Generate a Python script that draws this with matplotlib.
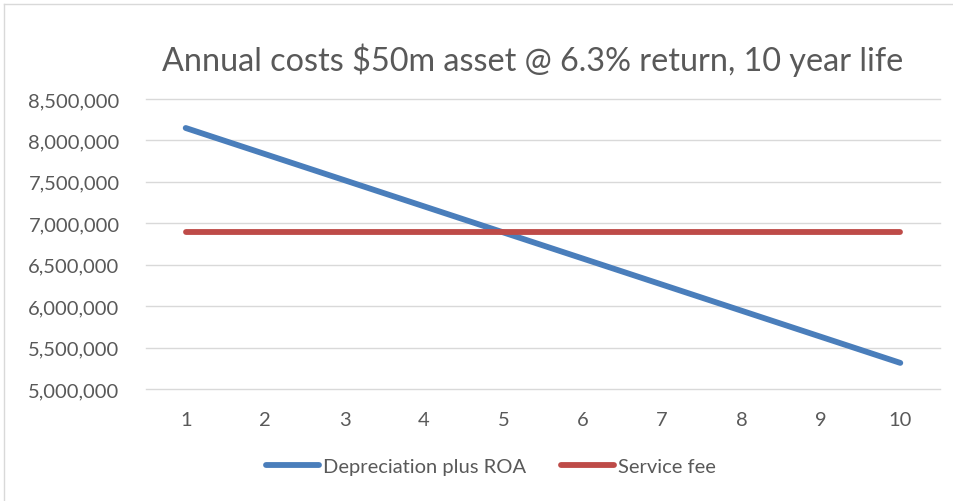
import matplotlib
matplotlib.use("Agg")
import matplotlib.pyplot as plt
from matplotlib.lines import Line2D
from matplotlib.ticker import FuncFormatter

plt.rcParams['font.family'] = ['Lato', 'DejaVu Sans']

years = [1, 2, 3, 4, 5, 6, 7, 8, 9, 10]
depreciation_plus_roa = [8150000, 7835000, 7520000, 7205000, 6890000,
                         6575000, 6260000, 5945000, 5630000, 5315000]
service_fee = [6890000] * 10
series_names = ["Depreciation plus ROA", "Service fee"]
title = "Annual costs $50m asset @ 6.3% return, 10 year life"
y_ticks = [5000000, 5500000, 6000000, 6500000, 7000000, 7500000, 8000000, 8500000]

W, H = 954, 502
fig = plt.figure(figsize=(W / 100, H / 100), dpi=100)
ax = fig.add_axes([146 / W, 1 - 390 / H, (940 - 146) / W, (390 - 100) / H])

blue = "#4A7EBB"
red = "#BE4B48"
lw = 4.2
ax.plot(years, depreciation_plus_roa, color=blue, lw=lw, solid_capstyle='round', zorder=3)
ax.plot(years, service_fee, color=red, lw=lw, solid_capstyle='round', zorder=3)

ax.set_xlim(0.5, 10.5)
ax.set_ylim(5000000, 8500000)
ax.set_yticks(y_ticks)
ax.set_xticks(years)
ax.yaxis.set_major_formatter(FuncFormatter(lambda v, p: f"{int(v):,}"))
ax.grid(axis='y', color='#D9D9D9', lw=1)
for gl in ax.get_ygridlines():
    gl.set_clip_on(False)
ax.set_axisbelow(True)
for s in ax.spines.values():
    s.set_visible(False)
ax.tick_params(axis='both', length=0, labelsize=14.5, colors='#595959')
ax.tick_params(axis='x', pad=16)
ax.tick_params(axis='y', pad=19)

fig.text(533 / W, 1 - 60 / H, title, ha='center', va='center', fontsize=23.3, color='#595959')

handles = [Line2D([0], [0], color=blue, lw=lw, solid_capstyle='round'),
           Line2D([0], [0], color=red, lw=lw, solid_capstyle='round')]
fig.legend(handles, series_names, loc='center', bbox_to_anchor=(491 / W, 1 - 467 / H),
           ncol=2, frameon=False, fontsize=14.5, handlelength=2.6, handletextpad=0.2,
           columnspacing=1.75, labelcolor='#595959')

# chart border (top and left visible)
fig.add_artist(Line2D([4 / W, 1], [1 - 5 / H, 1 - 5 / H], transform=fig.transFigure, color='#D9D9D9', lw=1))
fig.add_artist(Line2D([4 / W, 4 / W], [1 - 5 / H, 0], transform=fig.transFigure, color='#D9D9D9', lw=1))

fig.savefig("out.png", dpi=100)
